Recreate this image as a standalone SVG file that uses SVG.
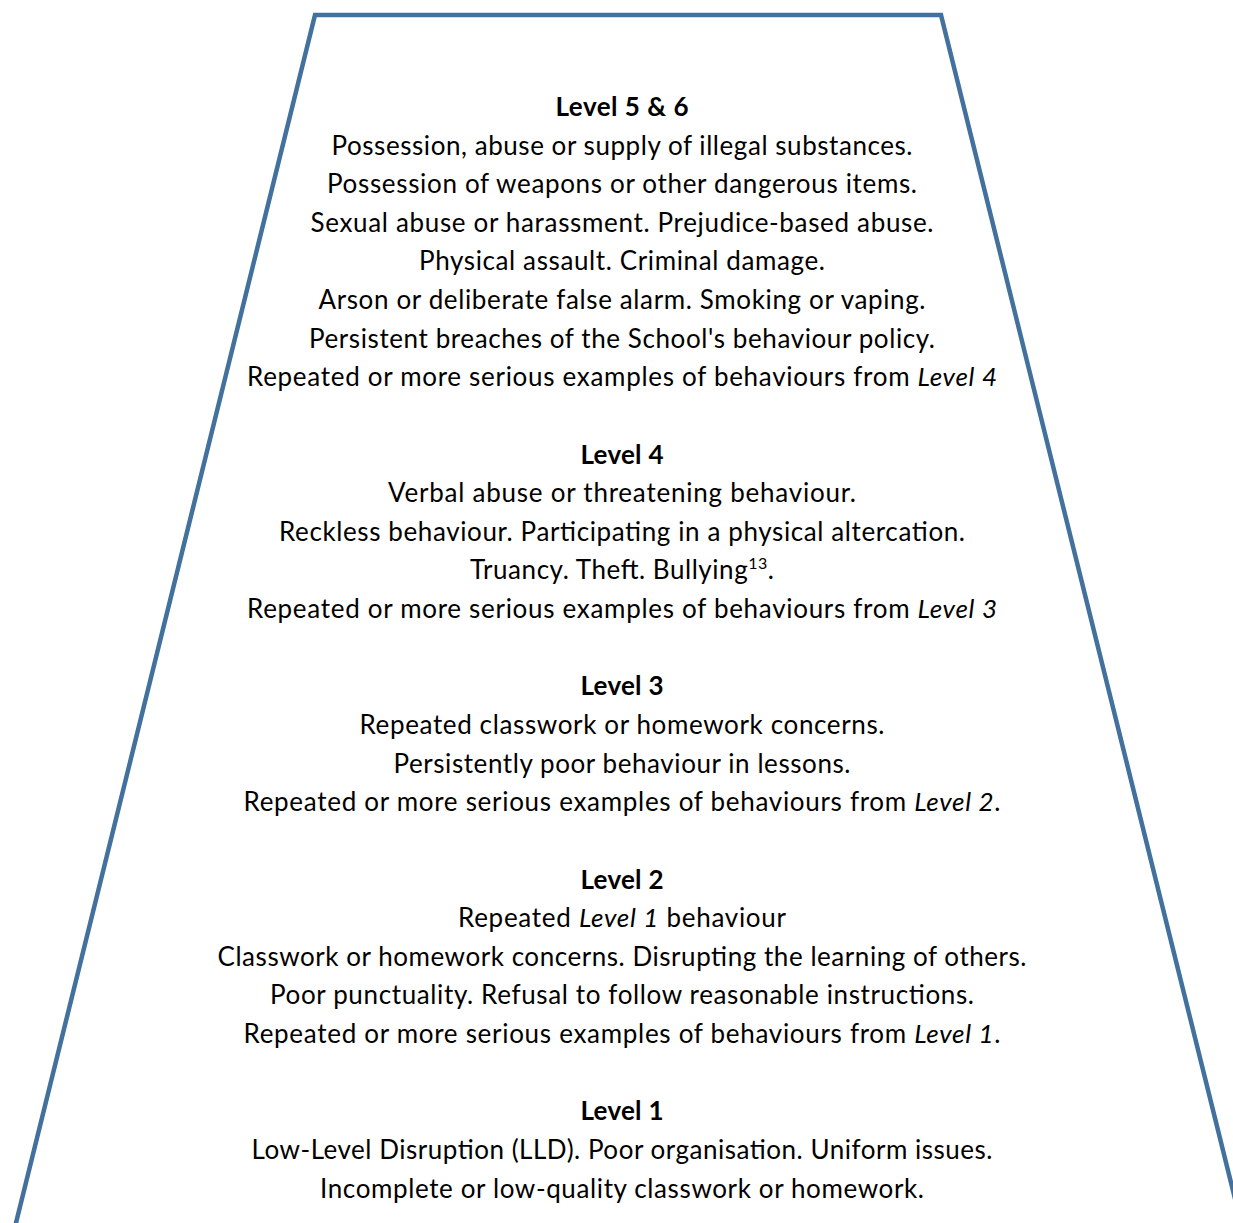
<svg xmlns="http://www.w3.org/2000/svg" width="1233" height="1223" viewBox="0 0 1233 1223">
<style>
.t{font-family:Lato,"Open Sans","Liberation Sans",sans-serif;font-size:26px;fill:#000;text-anchor:middle}
.b{font-weight:bold}
.i{font-style:italic}
.shape{fill:none;stroke:#41719C;stroke-width:4.5;stroke-linejoin:miter}
</style>
<rect width="1233" height="1223" fill="#fff"/>
<g id="pyramid">
<path class="shape" d="M 13,1235 L 315,15 L 941,15 L 1244,1235"/>
</g>
<g id="level56">
<text class="t b" x="622" y="116" textLength="133" lengthAdjust="spacing">Level 5 &amp; 6</text>
<text class="t" x="622" y="154.6" textLength="581" lengthAdjust="spacing">Possession, abuse or supply of illegal substances.</text>
<text class="t" x="622" y="193.2" textLength="590" lengthAdjust="spacing">Possession of weapons or other dangerous items.</text>
<text class="t" x="622" y="231.8" textLength="623" lengthAdjust="spacing">Sexual abuse or harassment. Prejudice-based abuse.</text>
<text class="t" x="622" y="270.4" textLength="406" lengthAdjust="spacing">Physical assault. Criminal damage.</text>
<text class="t" x="622" y="309" textLength="607" lengthAdjust="spacing">Arson or deliberate false alarm. Smoking or vaping.</text>
<text class="t" x="622" y="347.6" textLength="626" lengthAdjust="spacing">Persistent breaches of the School's behaviour policy.</text>
<text class="t" x="622" y="386.2" textLength="750" lengthAdjust="spacing">Repeated or more serious examples of behaviours from <tspan class="i">Level 4</tspan></text>
</g>
<g id="level4">
<text class="t b" x="622" y="463.6" textLength="83" lengthAdjust="spacing">Level 4</text>
<text class="t" x="622" y="502.2" textLength="468" lengthAdjust="spacing">Verbal abuse or threatening behaviour.</text>
<text class="t" x="622" y="540.8" textLength="686" lengthAdjust="spacing">Reckless behaviour. Participating in a physical altercation.</text>
<text class="t" x="622" y="579.4" textLength="304" lengthAdjust="spacing">Truancy. Theft. Bullying<tspan font-size="16" dy="-10">13</tspan><tspan dy="10">.</tspan></text>
<text class="t" x="622" y="618" textLength="750" lengthAdjust="spacing">Repeated or more serious examples of behaviours from <tspan class="i">Level 3</tspan></text>
</g>
<g id="level3">
<text class="t b" x="622" y="695.4" textLength="83" lengthAdjust="spacing">Level 3</text>
<text class="t" x="622" y="734" textLength="525" lengthAdjust="spacing">Repeated classwork or homework concerns.</text>
<text class="t" x="622" y="772.6" textLength="457" lengthAdjust="spacing">Persistently poor behaviour in lessons.</text>
<text class="t" x="622" y="811.2" textLength="757" lengthAdjust="spacing">Repeated or more serious examples of behaviours from <tspan class="i">Level 2</tspan>.</text>
</g>
<g id="level2">
<text class="t b" x="622" y="888.6" textLength="83" lengthAdjust="spacing">Level 2</text>
<text class="t" x="622" y="927.2" textLength="328" lengthAdjust="spacing">Repeated <tspan class="i">Level 1</tspan> behaviour</text>
<text class="t" x="622" y="965.8" textLength="809" lengthAdjust="spacing">Classwork or homework concerns. Disrupting the learning of others.</text>
<text class="t" x="622" y="1004.4" textLength="704" lengthAdjust="spacing">Poor punctuality. Refusal to follow reasonable instructions.</text>
<text class="t" x="622" y="1043" textLength="757" lengthAdjust="spacing">Repeated or more serious examples of behaviours from <tspan class="i">Level 1</tspan>.</text>
</g>
<g id="level1">
<text class="t b" x="622" y="1120.4" textLength="83" lengthAdjust="spacing">Level 1</text>
<text class="t" x="622" y="1159" textLength="741" lengthAdjust="spacing">Low-Level Disruption (LLD). Poor organisation. Uniform issues.</text>
<text class="t" x="622" y="1197.6" textLength="604" lengthAdjust="spacing">Incomplete or low-quality classwork or homework.</text>
</g>
</svg>
